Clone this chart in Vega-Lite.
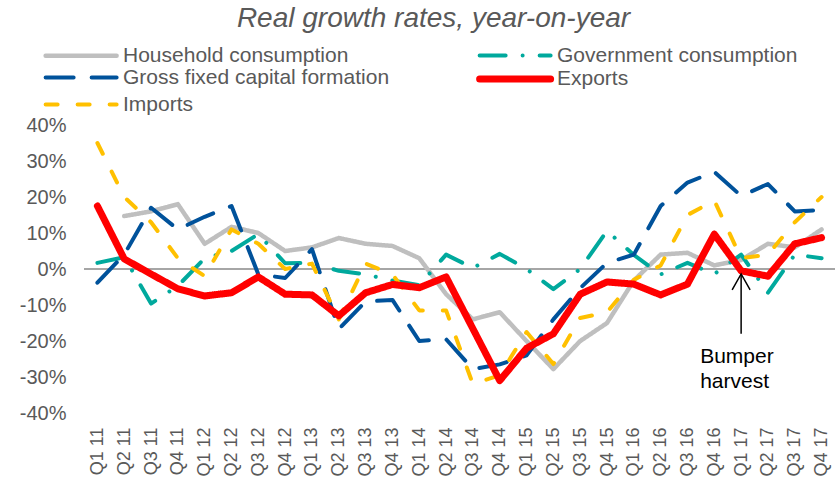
{
  "$schema": "https://vega.github.io/schema/vega-lite/v6.json",
  "width": 751,
  "height": 288,
  "autosize": {"type": "none"},
  "padding": {"left": 84, "top": 125, "right": 0, "bottom": 69},
  "background": "white",
  "title": {
    "text": "Real growth rates, year-on-year",
    "font": "Liberation Sans",
    "fontSize": 28,
    "fontStyle": "italic",
    "fontWeight": "normal",
    "color": "#595959",
    "anchor": "middle",
    "frame": "group",
    "dx": -26,
    "dy": -7
  },
  "config": {
    "view": {"stroke": null},
    "font": "Liberation Sans"
  },
  "datasets": {
    "series": [
      {"s": "Household consumption", "q": "Q2 11", "v": 14.7},
      {"s": "Household consumption", "q": "Q3 11", "v": 16},
      {"s": "Household consumption", "q": "Q4 11", "v": 18},
      {"s": "Household consumption", "q": "Q1 12", "v": 7},
      {"s": "Household consumption", "q": "Q2 12", "v": 11.7},
      {"s": "Household consumption", "q": "Q3 12", "v": 10},
      {"s": "Household consumption", "q": "Q4 12", "v": 5},
      {"s": "Household consumption", "q": "Q1 13", "v": 6},
      {"s": "Household consumption", "q": "Q2 13", "v": 8.6},
      {"s": "Household consumption", "q": "Q3 13", "v": 7},
      {"s": "Household consumption", "q": "Q4 13", "v": 6.4},
      {"s": "Household consumption", "q": "Q1 14", "v": 3},
      {"s": "Household consumption", "q": "Q2 14", "v": -7},
      {"s": "Household consumption", "q": "Q3 14", "v": -14},
      {"s": "Household consumption", "q": "Q4 14", "v": -12},
      {"s": "Household consumption", "q": "Q1 15", "v": -20},
      {"s": "Household consumption", "q": "Q2 15", "v": -27.8},
      {"s": "Household consumption", "q": "Q3 15", "v": -20},
      {"s": "Household consumption", "q": "Q4 15", "v": -15},
      {"s": "Household consumption", "q": "Q1 16", "v": -3.2},
      {"s": "Household consumption", "q": "Q2 16", "v": 4},
      {"s": "Household consumption", "q": "Q3 16", "v": 4.5},
      {"s": "Household consumption", "q": "Q4 16", "v": 1},
      {"s": "Household consumption", "q": "Q1 17", "v": 2.5},
      {"s": "Household consumption", "q": "Q2 17", "v": 7},
      {"s": "Household consumption", "q": "Q3 17", "v": 6},
      {"s": "Household consumption", "q": "Q4 17", "v": 11},

      {"s": "Government consumption", "q": "Q1 11", "v": 1.7},
      {"s": "Government consumption", "q": "Q2 11", "v": 3.3},
      {"s": "Government consumption", "q": "Q3 11", "v": -9.6},
      {"s": "Government consumption", "q": "Q4 11", "v": -4.7},
      {"s": "Government consumption", "q": "Q1 12", "v": 3},
      {"s": "Government consumption", "q": "Q2 12", "v": 5},
      {"s": "Government consumption", "q": "Q3 12", "v": 9.7},
      {"s": "Government consumption", "q": "Q4 12", "v": 1.6},
      {"s": "Government consumption", "q": "Q1 13", "v": 1.7},
      {"s": "Government consumption", "q": "Q2 13", "v": -0.5},
      {"s": "Government consumption", "q": "Q3 13", "v": -1.5},
      {"s": "Government consumption", "q": "Q4 13", "v": -3.2},
      {"s": "Government consumption", "q": "Q1 14", "v": -4.5},
      {"s": "Government consumption", "q": "Q2 14", "v": 4},
      {"s": "Government consumption", "q": "Q3 14", "v": 0.3},
      {"s": "Government consumption", "q": "Q4 14", "v": 4.2},
      {"s": "Government consumption", "q": "Q1 15", "v": 0},
      {"s": "Government consumption", "q": "Q2 15", "v": -5.6},
      {"s": "Government consumption", "q": "Q3 15", "v": 0},
      {"s": "Government consumption", "q": "Q4 15", "v": 10.6},
      {"s": "Government consumption", "q": "Q1 16", "v": 3.9},
      {"s": "Government consumption", "q": "Q2 16", "v": -1.5},
      {"s": "Government consumption", "q": "Q3 16", "v": 1.7},
      {"s": "Government consumption", "q": "Q4 16", "v": -1.4},
      {"s": "Government consumption", "q": "Q1 17", "v": 4},
      {"s": "Government consumption", "q": "Q2 17", "v": -6.6},
      {"s": "Government consumption", "q": "Q3 17", "v": 4},
      {"s": "Government consumption", "q": "Q4 17", "v": 3},

      {"s": "Gross fixed capital formation", "q": "Q1 11", "v": -3.8},
      {"s": "Gross fixed capital formation", "q": "Q2 11", "v": 4},
      {"s": "Gross fixed capital formation", "q": "Q3 11", "v": 17},
      {"s": "Gross fixed capital formation", "q": "Q4 11", "v": 11},
      {"s": "Gross fixed capital formation", "q": "Q1 12", "v": 14.5},
      {"s": "Gross fixed capital formation", "q": "Q2 12", "v": 17.5},
      {"s": "Gross fixed capital formation", "q": "Q3 12", "v": -1.5},
      {"s": "Gross fixed capital formation", "q": "Q4 12", "v": -2.5},
      {"s": "Gross fixed capital formation", "q": "Q1 13", "v": 5.5},
      {"s": "Gross fixed capital formation", "q": "Q2 13", "v": -16.7},
      {"s": "Gross fixed capital formation", "q": "Q3 13", "v": -9},
      {"s": "Gross fixed capital formation", "q": "Q4 13", "v": -8.6},
      {"s": "Gross fixed capital formation", "q": "Q1 14", "v": -20},
      {"s": "Gross fixed capital formation", "q": "Q2 14", "v": -19.5},
      {"s": "Gross fixed capital formation", "q": "Q3 14", "v": -27.8},
      {"s": "Gross fixed capital formation", "q": "Q4 14", "v": -26.5},
      {"s": "Gross fixed capital formation", "q": "Q1 15", "v": -24},
      {"s": "Gross fixed capital formation", "q": "Q2 15", "v": -14},
      {"s": "Gross fixed capital formation", "q": "Q3 15", "v": -5.3},
      {"s": "Gross fixed capital formation", "q": "Q4 15", "v": 1.7},
      {"s": "Gross fixed capital formation", "q": "Q1 16", "v": 4},
      {"s": "Gross fixed capital formation", "q": "Q2 16", "v": 17.5},
      {"s": "Gross fixed capital formation", "q": "Q3 16", "v": 24},
      {"s": "Gross fixed capital formation", "q": "Q4 16", "v": 27},
      {"s": "Gross fixed capital formation", "q": "Q1 17", "v": 20.3},
      {"s": "Gross fixed capital formation", "q": "Q2 17", "v": 23.6},
      {"s": "Gross fixed capital formation", "q": "Q3 17", "v": 16},
      {"s": "Gross fixed capital formation", "q": "Q4 17", "v": 16.4},

      {"s": "Imports", "q": "Q1 11", "v": 35},
      {"s": "Imports", "q": "Q2 11", "v": 20},
      {"s": "Imports", "q": "Q3 11", "v": 13},
      {"s": "Imports", "q": "Q4 11", "v": 3},
      {"s": "Imports", "q": "Q1 12", "v": -2},
      {"s": "Imports", "q": "Q2 12", "v": 11},
      {"s": "Imports", "q": "Q3 12", "v": 7},
      {"s": "Imports", "q": "Q4 12", "v": 0},
      {"s": "Imports", "q": "Q1 13", "v": 1.5},
      {"s": "Imports", "q": "Q2 13", "v": -14},
      {"s": "Imports", "q": "Q3 13", "v": 1.5},
      {"s": "Imports", "q": "Q4 13", "v": -1.5},
      {"s": "Imports", "q": "Q1 14", "v": -11.5},
      {"s": "Imports", "q": "Q2 14", "v": -11.5},
      {"s": "Imports", "q": "Q3 14", "v": -32},
      {"s": "Imports", "q": "Q4 14", "v": -29.5},
      {"s": "Imports", "q": "Q1 15", "v": -17.5},
      {"s": "Imports", "q": "Q2 15", "v": -26.4},
      {"s": "Imports", "q": "Q3 15", "v": -13.6},
      {"s": "Imports", "q": "Q4 15", "v": -12},
      {"s": "Imports", "q": "Q1 16", "v": -3},
      {"s": "Imports", "q": "Q2 16", "v": 1},
      {"s": "Imports", "q": "Q3 16", "v": 15},
      {"s": "Imports", "q": "Q4 16", "v": 19},
      {"s": "Imports", "q": "Q1 17", "v": 3},
      {"s": "Imports", "q": "Q2 17", "v": 4},
      {"s": "Imports", "q": "Q3 17", "v": 13},
      {"s": "Imports", "q": "Q4 17", "v": 20},

      {"s": "Exports", "q": "Q1 11", "v": 17.5},
      {"s": "Exports", "q": "Q2 11", "v": 2.8},
      {"s": "Exports", "q": "Q3 11", "v": -1.4},
      {"s": "Exports", "q": "Q4 11", "v": -5.5},
      {"s": "Exports", "q": "Q1 12", "v": -7.5},
      {"s": "Exports", "q": "Q2 12", "v": -6.6},
      {"s": "Exports", "q": "Q3 12", "v": -2.2},
      {"s": "Exports", "q": "Q4 12", "v": -7},
      {"s": "Exports", "q": "Q1 13", "v": -7.2},
      {"s": "Exports", "q": "Q2 13", "v": -13},
      {"s": "Exports", "q": "Q3 13", "v": -6.6},
      {"s": "Exports", "q": "Q4 13", "v": -4.3},
      {"s": "Exports", "q": "Q1 14", "v": -5.2},
      {"s": "Exports", "q": "Q2 14", "v": -2.2},
      {"s": "Exports", "q": "Q3 14", "v": -16.6},
      {"s": "Exports", "q": "Q4 14", "v": -31},
      {"s": "Exports", "q": "Q1 15", "v": -22},
      {"s": "Exports", "q": "Q2 15", "v": -18},
      {"s": "Exports", "q": "Q3 15", "v": -7},
      {"s": "Exports", "q": "Q4 15", "v": -3.6},
      {"s": "Exports", "q": "Q1 16", "v": -4.2},
      {"s": "Exports", "q": "Q2 16", "v": -7.2},
      {"s": "Exports", "q": "Q3 16", "v": -4.2},
      {"s": "Exports", "q": "Q4 16", "v": 9.7},
      {"s": "Exports", "q": "Q1 17", "v": -0.5},
      {"s": "Exports", "q": "Q2 17", "v": -2},
      {"s": "Exports", "q": "Q3 17", "v": 7},
      {"s": "Exports", "q": "Q4 17", "v": 8.7}
    ],
    "zero": [{"v": 0}],
    "arrow": [{"q": "Q1 17", "v": -18, "v2": -1.4}],
    "head": [{"q": "Q1 17", "v": -3.6}],
    "note": [{"q": "Q1 17", "v": -21.5, "label": "Bumper\nharvest"}]
  },
  "encoding": {
    "x": {
      "field": "q",
      "type": "ordinal",
      "scale": {
        "type": "point",
        "padding": 0.5,
        "domain": ["Q1 11","Q2 11","Q3 11","Q4 11","Q1 12","Q2 12","Q3 12","Q4 12","Q1 13","Q2 13","Q3 13","Q4 13","Q1 14","Q2 14","Q3 14","Q4 14","Q1 15","Q2 15","Q3 15","Q4 15","Q1 16","Q2 16","Q3 16","Q4 16","Q1 17","Q2 17","Q3 17","Q4 17"]
      },
      "axis": {
        "title": null,
        "labelAngle": -90,
        "labelFontSize": 18,
        "labelColor": "#595959",
        "labelFont": "Liberation Sans",
        "domain": false,
        "ticks": false,
        "labelPadding": 14
      }
    },
    "y": {
      "field": "v",
      "type": "quantitative",
      "scale": {"domain": [-40, 40], "nice": false, "zero": false},
      "axis": {
        "title": null,
        "values": [-40, -30, -20, -10, 0, 10, 20, 30, 40],
        "labelExpr": "datum.value + '%'",
        "domain": false,
        "ticks": false,
        "grid": false,
        "labelPadding": 18,
        "labelFontSize": 20,
        "labelColor": "#595959",
        "labelFont": "Liberation Sans"
      }
    }
  },
  "layer": [
    {
      "data": {"name": "zero"},
      "mark": {"type": "rule", "color": "#A6A6A6", "strokeWidth": 2},
      "encoding": {"x": null, "y": {"field": "v", "type": "quantitative"}}
    },
    {
      "data": {"name": "series"},
      "mark": {"type": "line", "strokeCap": "round", "strokeJoin": "round"},
      "encoding": {
        "color": {
          "field": "s",
          "type": "nominal",
          "scale": {
            "domain": ["Household consumption", "Government consumption", "Gross fixed capital formation", "Exports", "Imports"],
            "range": ["#BFBFBF", "#00A99D", "#00529B", "#FF0000", "#FFC000"]
          },
          "legend": {
            "orient": "none",
            "legendX": -42,
            "legendY": -81,
            "columns": 2,
            "direction": "horizontal",
            "title": null,
            "symbolType": "M-1,0L7,0",
            "symbolSize": 315,
            "symbolStrokeWidth": 5,
            "labelFontSize": 21,
            "labelFont": "Liberation Sans",
            "labelColor": "#595959",
            "labelOffset": 56,
            "labelLimit": 500,
            "columnPadding": 75,
            "rowPadding": -1.5,
            "encode": {"symbols": {"update": {"strokeCap": {"value": "round"}}}}
          }
        },
        "strokeDash": {
          "field": "s",
          "type": "nominal",
          "scale": {
            "domain": ["Household consumption", "Government consumption", "Gross fixed capital formation", "Exports", "Imports"],
            "range": [[1, 0], [26, 17, 0.01, 17], [28, 18], [1, 0], [12, 20]]
          }
        },
        "strokeWidth": {
          "field": "s",
          "type": "nominal",
          "scale": {
            "type": "ordinal",
            "domain": ["Household consumption", "Government consumption", "Gross fixed capital formation", "Exports", "Imports"],
            "range": [4.5, 4, 4, 7, 4]
          }
        }
      }
    },
    {
      "data": {"name": "arrow"},
      "mark": {"type": "rule", "color": "black", "strokeWidth": 1.5},
      "encoding": {"y2": {"field": "v2"}}
    },
    {
      "data": {"name": "head"},
      "mark": {"type": "point", "shape": "M-1,0.89L0,-0.89L1,0.89", "filled": false, "stroke": "black", "strokeWidth": 1.5, "size": 324, "opacity": 1}
    },
    {
      "data": {"name": "note"},
      "mark": {"type": "text", "align": "left", "baseline": "top", "dx": -41, "fontSize": 21, "font": "Liberation Sans", "color": "black", "lineBreak": "\n", "lineHeight": 25},
      "encoding": {"text": {"field": "label"}}
    }
  ]
}
